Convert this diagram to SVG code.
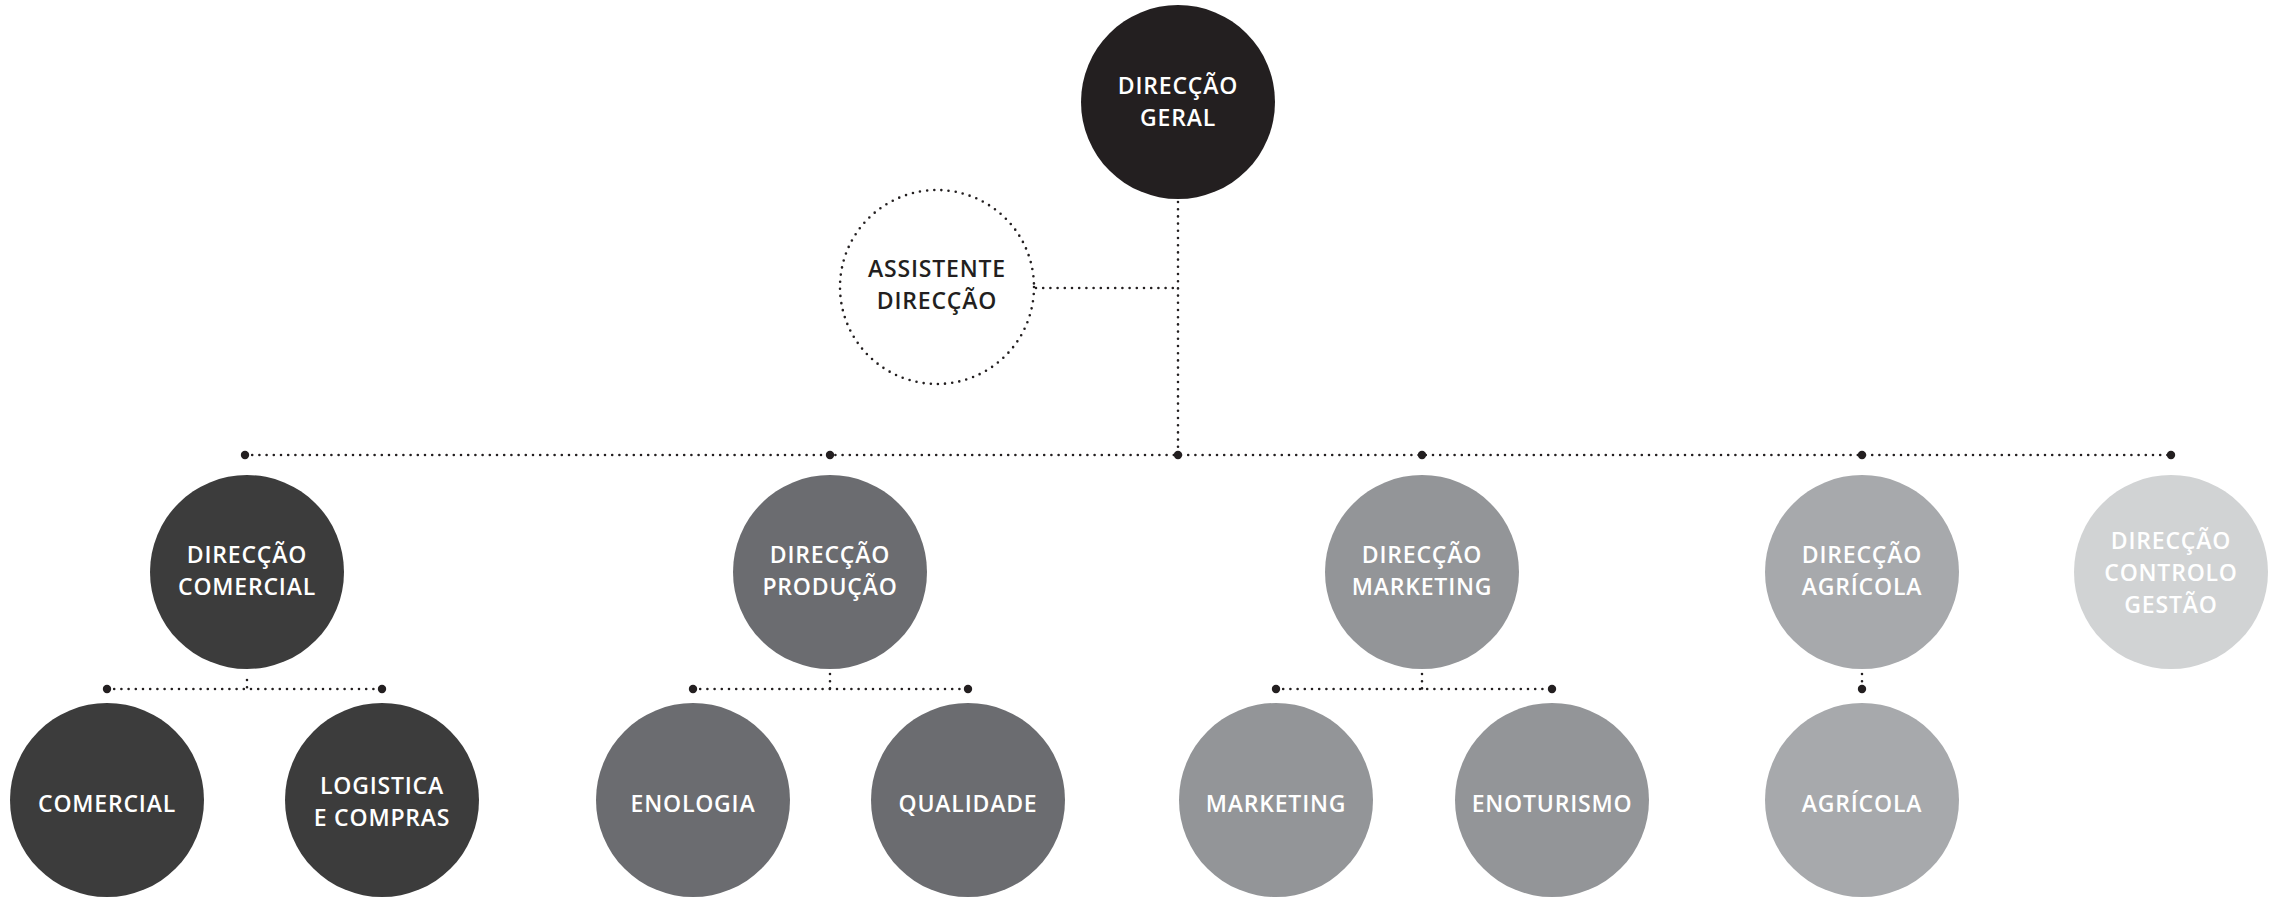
<svg xmlns="http://www.w3.org/2000/svg" width="2278" height="899" viewBox="0 0 2278 899">
<style>
.dot{fill:none;stroke:#231f20;stroke-width:2.6;stroke-linecap:round;stroke-dasharray:0 7.2}
.end{fill:#231f20}
.t{font-family:"Open Sans","Liberation Sans",sans-serif;font-size:23px;font-weight:600;letter-spacing:0.8px;text-anchor:middle;fill:#ffffff}
.dk{fill:#231f20}
.c0{fill:#231f20}.c1{fill:#3c3c3c}.c2{fill:#6b6c70}.c3{fill:#939598}.c4{fill:#a7a9ac}.c5{fill:#d1d3d4}
</style>
<g id="connectors">
<line class="dot" x1="1178" y1="202" x2="1178" y2="455"/>
<line class="dot" x1="1036" y1="288" x2="1178" y2="288"/>
<line class="dot" x1="245" y1="455" x2="2171" y2="455"/>
<circle class="end" cx="245" cy="455" r="4.2"/>
<circle class="end" cx="830" cy="455" r="4.2"/>
<circle class="end" cx="1178" cy="455" r="4.2"/>
<circle class="end" cx="1422" cy="455" r="4.2"/>
<circle class="end" cx="1862" cy="455" r="4.2"/>
<circle class="end" cx="2171" cy="455" r="4.2"/>
<line class="dot" x1="247" y1="680" x2="247" y2="689"/>
<line class="dot" x1="107" y1="689" x2="382" y2="689"/>
<circle class="end" cx="107" cy="689" r="4.2"/>
<circle class="end" cx="382" cy="689" r="4.2"/>
<line class="dot" x1="830" y1="674" x2="830" y2="689"/>
<line class="dot" x1="693" y1="689" x2="968" y2="689"/>
<circle class="end" cx="693" cy="689" r="4.2"/>
<circle class="end" cx="968" cy="689" r="4.2"/>
<line class="dot" x1="1422" y1="674" x2="1422" y2="689"/>
<line class="dot" x1="1276" y1="689" x2="1552" y2="689"/>
<circle class="end" cx="1276" cy="689" r="4.2"/>
<circle class="end" cx="1552" cy="689" r="4.2"/>
<line class="dot" x1="1862" y1="674" x2="1862" y2="689"/>
<circle class="end" cx="1862" cy="689" r="4.2"/>
</g>
<g id="direccao-geral">
<circle class="c0" cx="1178" cy="102" r="97"/>
<text class="t" x="1178" y="94">DIRECÇÃO</text>
<text class="t" x="1178" y="126">GERAL</text>
</g>
<g id="assistente-direccao">
<circle class="dot" cx="937" cy="287" r="97"/>
<text class="t dk" x="937" y="277">ASSISTENTE</text>
<text class="t dk" x="937" y="309">DIRECÇÃO</text>
</g>
<g id="direccao-comercial">
<circle class="c1" cx="247" cy="572" r="97"/>
<text class="t" x="247" y="563">DIRECÇÃO</text>
<text class="t" x="247" y="595">COMERCIAL</text>
</g>
<g id="direccao-producao">
<circle class="c2" cx="830" cy="572" r="97"/>
<text class="t" x="830" y="563">DIRECÇÃO</text>
<text class="t" x="830" y="595">PRODUÇÃO</text>
</g>
<g id="direccao-marketing">
<circle class="c3" cx="1422" cy="572" r="97"/>
<text class="t" x="1422" y="563">DIRECÇÃO</text>
<text class="t" x="1422" y="595">MARKETING</text>
</g>
<g id="direccao-agricola">
<circle class="c4" cx="1862" cy="572" r="97"/>
<text class="t" x="1862" y="563">DIRECÇÃO</text>
<text class="t" x="1862" y="595">AGRÍCOLA</text>
</g>
<g id="direccao-controlo-gestao">
<circle class="c5" cx="2171" cy="572" r="97"/>
<text class="t" x="2171" y="549">DIRECÇÃO</text>
<text class="t" x="2171" y="581">CONTROLO</text>
<text class="t" x="2171" y="613">GESTÃO</text>
</g>
<g id="comercial">
<circle class="c1" cx="107" cy="800" r="97"/>
<text class="t" x="107" y="812">COMERCIAL</text>
</g>
<g id="logistica-compras">
<circle class="c1" cx="382" cy="800" r="97"/>
<text class="t" x="382" y="794">LOGISTICA</text>
<text class="t" x="382" y="826">E COMPRAS</text>
</g>
<g id="enologia">
<circle class="c2" cx="693" cy="800" r="97"/>
<text class="t" x="693" y="812">ENOLOGIA</text>
</g>
<g id="qualidade">
<circle class="c2" cx="968" cy="800" r="97"/>
<text class="t" x="968" y="812">QUALIDADE</text>
</g>
<g id="marketing">
<circle class="c3" cx="1276" cy="800" r="97"/>
<text class="t" x="1276" y="812">MARKETING</text>
</g>
<g id="enoturismo">
<circle class="c3" cx="1552" cy="800" r="97"/>
<text class="t" x="1552" y="812">ENOTURISMO</text>
</g>
<g id="agricola">
<circle class="c4" cx="1862" cy="800" r="97"/>
<text class="t" x="1862" y="812">AGRÍCOLA</text>
</g>
</svg>
